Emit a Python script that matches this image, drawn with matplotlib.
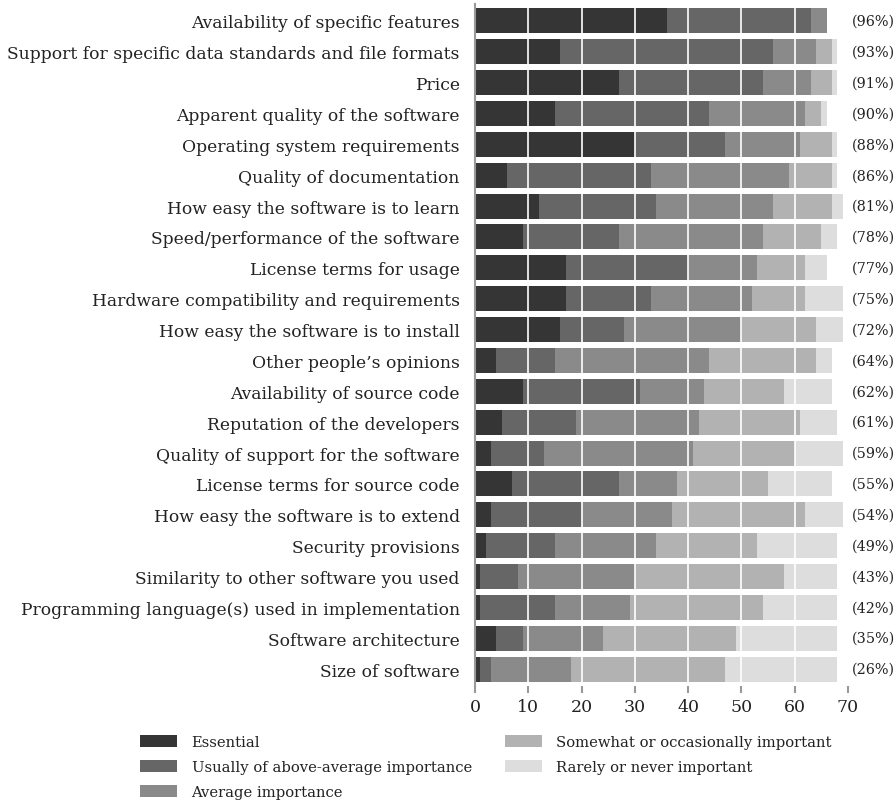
import matplotlib
matplotlib.use("Agg")
import matplotlib.pyplot as plt
import numpy as np

categories = [
    "Availability of specific features",
    "Support for specific data standards and file formats",
    "Price",
    "Apparent quality of the software",
    "Operating system requirements",
    "Quality of documentation",
    "How easy the software is to learn",
    "Speed/performance of the software",
    "License terms for usage",
    "Hardware compatibility and requirements",
    "How easy the software is to install",
    "Other people\u2019s opinions",
    "Availability of source code",
    "Reputation of the developers",
    "Quality of support for the software",
    "License terms for source code",
    "How easy the software is to extend",
    "Security provisions",
    "Similarity to other software you used",
    "Programming language(s) used in implementation",
    "Software architecture",
    "Size of software",
]
essential = [36, 16, 27, 15, 30, 6, 12, 9, 17, 17, 16, 4, 9, 5, 3, 7, 3, 2, 1, 1, 4, 1]
above_avg = [27, 40, 27, 29, 17, 27, 22, 18, 23, 16, 12, 11, 22, 14, 10, 20, 17, 13, 7, 14, 5, 2]
average   = [3, 8, 9, 18, 14, 26, 22, 27, 13, 19, 22, 29, 12, 23, 28, 11, 17, 19, 22, 14, 15, 15]
somewhat  = [0, 3, 4, 3, 6, 8, 11, 11, 9, 10, 14, 20, 15, 19, 19, 17, 25, 19, 28, 25, 25, 29]
rarely    = [0, 1, 1, 1, 1, 1, 2, 3, 4, 7, 5, 3, 9, 7, 9, 12, 7, 15, 10, 14, 19, 21]
pct_labels = ["(96%)", "(93%)", "(91%)", "(90%)", "(88%)", "(86%)", "(81%)", "(78%)",
              "(77%)", "(75%)", "(72%)", "(64%)", "(62%)", "(61%)", "(59%)", "(55%)",
              "(54%)", "(49%)", "(43%)", "(42%)", "(35%)", "(26%)"]
series_names = ["Essential", "Usually of above-average importance", "Average importance",
                "Somewhat or occasionally important", "Rarely or never important"]
colors = ["#353535", "#666666", "#8a8a8a", "#b2b2b2", "#dddddd"]

plt.rcParams['font.family'] = ['DejaVu Serif']

fig = plt.figure(figsize=(8.96, 8.04), dpi=100)
ax = fig.add_axes([475/896, 1-687/804, (848-475)/896, (687-5)/804])

y = np.arange(len(categories))
left = np.zeros(len(categories))
series = [essential, above_avg, average, somewhat, rarely]
for vals, name, c in zip(series, series_names, colors):
    vals = np.array(vals, dtype=float)
    ax.barh(y, vals, left=left, height=0.81, color=c, label=name, zorder=2)
    left += vals

for gx in range(10, 70, 10):
    ax.axvline(gx, color="white", lw=1.2, zorder=3)

ax.set_xlim(0, 70)
ax.set_ylim(len(categories) - 0.45, -0.55)
ax.set_yticks(y)
ax.set_yticklabels(categories, fontsize=12.3, color="#222222")
ax.tick_params(axis="y", length=0, pad=11)
ax.set_xticks(range(0, 80, 10))
ax.tick_params(axis="x", labelsize=12.5, colors="#999999", labelcolor="#222222",
               length=5, width=1.5, direction="out", pad=4)
for s in ["top", "right", "bottom"]:
    ax.spines[s].set_visible(False)
ax.spines["left"].set_color("#999999")
ax.spines["left"].set_linewidth(1.5)

for yi, lab in zip(y, pct_labels):
    ax.annotate(lab, xy=(1.0, yi), xycoords=("axes fraction", "data"),
                xytext=(4, 0), textcoords="offset pixels", ha="left", va="center",
                fontsize=10.4, color="#222222")

leg = fig.legend(loc="upper left", bbox_to_anchor=(140/896, 1-736/804), ncol=2,
                 frameon=False, fontsize=10.6, handlelength=2.5, handleheight=0.8,
                 handletextpad=1.0, columnspacing=2.25, labelspacing=0.75,
                 borderaxespad=0, borderpad=0)
for t in leg.get_texts():
    t.set_color("#222222")

fig.savefig("out.png", dpi=100)
